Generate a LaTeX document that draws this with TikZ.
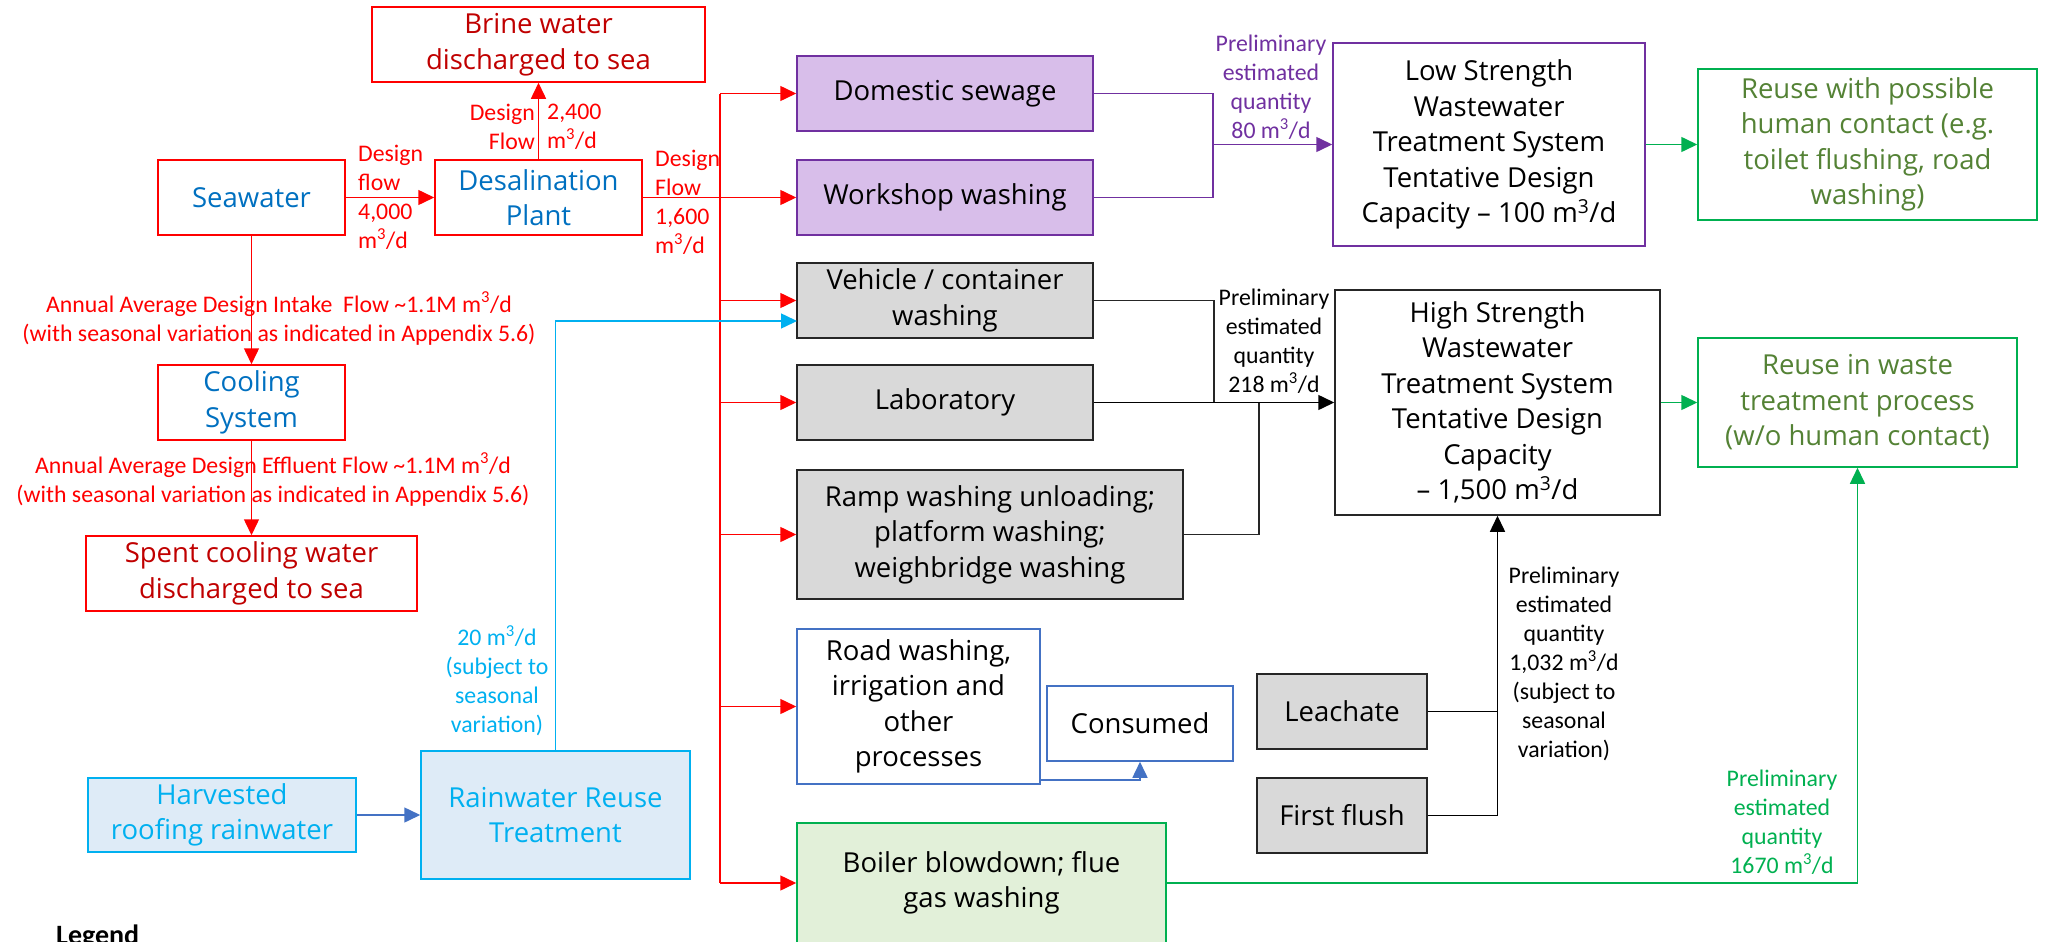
\documentclass[tikz,border=0pt]{standalone}
\usepackage{fontspec}
\setmainfont{Open Sans}
\newfontfamily\labfont{Carlito}
\usetikzlibrary{arrows.meta}
\definecolor{cred}{HTML}{FF0000}
\definecolor{dred}{HTML}{C00000}
\definecolor{cblue}{HTML}{0070C0}
\definecolor{ccyan}{HTML}{00B0F0}
\definecolor{lblue}{HTML}{DEEBF7}
\definecolor{cpurp}{HTML}{7030A0}
\definecolor{lpurp}{HTML}{D8BEEA}
\definecolor{cgray}{HTML}{D9D9D9}
\definecolor{dgray}{HTML}{262626}
\definecolor{mblue}{HTML}{4472C4}
\definecolor{cgreen}{HTML}{00B050}
\definecolor{tgreen}{HTML}{548235}
\definecolor{lgreen}{HTML}{E2F0D9}
\newcommand{\mcb}{m\textsuperscript{3}/d}
\begin{document}
\begin{tikzpicture}[x=1pt,y=-1pt,
  box/.style={draw, line width=1.5pt, rectangle, inner sep=2pt, align=center, font=\fontsize{27.5}{35.5}\selectfont},
  lbl/.style={inner sep=0pt, align=center, font=\labfont\fontsize{23.8}{29}\selectfont},
  arr/.style={line width=1.5pt, -{Triangle[length=16pt,width=15pt]}},
  ln/.style={line width=1.5pt},
  redbox/.style={box, draw=cred},
  graybox/.style={box, draw=dgray, fill=cgray},
  purpbox/.style={box, draw=cpurp, fill=lpurp},
  rainbox/.style={box, draw=ccyan, fill=lblue, text=ccyan},
  bluebox/.style={box, draw=mblue},
  greenbox/.style={box, draw=cgreen, text=tgreen},
]
\useasboundingbox (0,0) rectangle (2046,942);

% left column
\node[redbox, text=dred, minimum width=333pt, minimum height=75pt] (brine) at (538.5,44.5) {Brine water\\discharged to sea};
\node[redbox, text=cblue, minimum width=187pt, minimum height=75pt] (sea) at (251.5,197.5) {Seawater};
\node[redbox, text=cblue, minimum width=207pt, minimum height=75pt] (desal) at (538.5,197.5) {Desalination\\Plant};
\node[redbox, text=cblue, minimum width=187pt, minimum height=75pt] (cool) at (251.5,402.5) {Cooling\\System};
\node[redbox, text=dred, minimum width=331pt, minimum height=75pt] (spent) at (251.5,573.5) {Spent cooling water\\discharged to sea};
\node[rainbox, minimum width=268pt, minimum height=74pt] (harv) at (222,815) {Harvested\\roofing rainwater};
\node[rainbox, minimum width=269pt, minimum height=128pt] (rain) at (555.5,815) {Rainwater Reuse\\Treatment};

% middle column
\node[purpbox, minimum width=296pt, minimum height=75pt] (dom) at (945,93.5) {Domestic sewage};
\node[purpbox, minimum width=296pt, minimum height=75pt] (work) at (945,197.5) {Workshop washing};
\node[graybox, minimum width=296pt, minimum height=75pt] (veh) at (945,300.5) {Vehicle / container\\washing};
\node[graybox, minimum width=296pt, minimum height=75pt] (lab) at (945,402.5) {Laboratory};
\node[graybox, minimum width=386pt, minimum height=129pt] (ramp) at (990,534.5) {Ramp washing unloading;\\platform washing;\\weighbridge washing};
\node[bluebox, minimum width=243pt, minimum height=155pt] (road) at (918.5,706.5) {Road washing,\\irrigation and\\other\\processes};
\node[bluebox, minimum width=186pt, minimum height=75pt] (cons) at (1140,723.5) {Consumed};
\node[box, draw=cgreen, fill=lgreen, minimum width=369pt, minimum height=120pt] (boil) at (981.5,883) {Boiler blowdown; flue\\gas washing};
\node[graybox, minimum width=170pt, minimum height=75pt] (leach) at (1342,711.5) {Leachate};
\node[graybox, minimum width=170pt, minimum height=75pt] (first) at (1342,815.5) {First flush};

% right column
\node[box, draw=cpurp, minimum width=312pt, minimum height=203pt] (low) at (1489,144.5) {Low Strength\\Wastewater\\Treatment System\\Tentative Design\\Capacity – 100 \mcb};
\node[box, draw=dgray, minimum width=325pt, minimum height=225pt] (high) at (1497.5,402.5) {High Strength\\Wastewater\\Treatment System\\Tentative Design\\Capacity\\– 1,500 \mcb};
\node[greenbox, minimum width=339pt, minimum height=151pt] (reuse1) at (1867.5,144.5) {Reuse with possible\\human contact (e.g.\\toilet flushing, road\\washing)};
\node[greenbox, minimum width=319pt, minimum height=129pt] (reuse2) at (1857.5,402.5) {Reuse in waste\\treatment process\\(w/o human contact)};

% legend (cut by the page edge)
\node[anchor=base west, inner sep=0pt, font=\labfont\bfseries\fontsize{28}{30}\selectfont] (legend) at (56,944) {Legend};

% red connectors
\draw[arr, cred] (sea.east) -- (desal.west);
\draw[arr, cred] (desal.north) -- (brine.south);
\draw[arr, cred] (sea.south) -- (cool.north);
\draw[arr, cred] (cool.south) -- (spent.north);
\coordinate (ttop) at (720,93.5);
\coordinate (tbot) at (720,883);
\draw[ln, cred] (ttop) -- (tbot);
\draw[arr, cred] (desal.east) -- (work.west);
\draw[arr, cred] (ttop) -- (dom.west);
\draw[arr, cred] (ttop |- veh.west) -- (veh.west);
\draw[arr, cred] (ttop |- lab.west) -- (lab.west);
\draw[arr, cred] (ttop |- ramp.west) -- (ramp.west);
\draw[arr, cred] (ttop |- road.west) -- (road.west);
\draw[arr, cred] (ttop |- boil.west) -- (boil.west);

% rainwater
\draw[arr, mblue] (harv.east) -- (rain.west);
\coordinate (vehin) at (797,321);
\draw[arr, ccyan] (rain.north) |- (vehin);

% purple
\coordinate (pj) at (1213,144.5);
\draw[ln, cpurp] (dom.east) -| (pj);
\draw[ln, cpurp] (work.east) -| (pj);
\draw[arr, cpurp] (pj) -- (low.west);

% black
\coordinate (bj) at (1214,402.5);
\coordinate (rj) at (1259,402.5);
\draw[ln, dgray] (veh.east) -| (bj);
\draw[ln, dgray] (ramp.east) -| (rj);
\draw[arr, black] (lab.east) -- (high.west);
\draw[ln, black] (leach.east) -- (leach.east -| high.south);
\draw[arr, black] (first.east) -| (high.south);

% consumed
\coordinate (rc) at (1040,780);
\draw[arr, mblue] (rc) -| (cons.south);

% green
\draw[arr, cgreen] (low.east) -- (reuse1.west);
\draw[arr, cgreen] (high.east) -- (reuse2.west);
\draw[arr, cgreen] (boil.east) -| (reuse2.south);

% labels
\node[lbl, text=cred, anchor=west, align=left] (l1) at (358,197.5) {Design\\flow\\4,000\\\mcb};
\node[lbl, text=cred, anchor=east, align=right] (l2) at (535,127) {Design\\Flow};
\node[lbl, text=cred, anchor=west, align=left] (l3) at (547,127) {2,400\\\mcb};
\node[lbl, text=cred, anchor=west, align=left] (l4) at (655,202) {Design\\Flow\\1,600\\\mcb};
\node[lbl, text=cred] (l5) at (279,318.5) {Annual Average Design Intake~ Flow \textasciitilde1.1M \mcb\\(with seasonal variation as indicated in Appendix 5.6)};
\node[lbl, text=cred] (l6) at (273,479.5) {Annual Average Design Effluent Flow \textasciitilde1.1M \mcb\\(with seasonal variation as indicated in Appendix 5.6)};
\node[lbl, text=ccyan] (l7) at (497,681) {20 \mcb\\(subject to\\seasonal\\variation)};
\node[lbl, text=cpurp] (l8) at (1271,87) {Preliminary\\estimated\\quantity\\80 \mcb};
\node[lbl, text=black] (l9) at (1274,341.5) {Preliminary\\estimated\\quantity\\218 \mcb};
\node[lbl, text=black] (l10) at (1564,664) {Preliminary\\estimated\\quantity\\1,032 \mcb\\(subject to\\seasonal\\variation)};
\node[lbl, text=cgreen] (l11) at (1782,822) {Preliminary\\estimated\\quantity\\1670 \mcb};
\end{tikzpicture}
\end{document}
